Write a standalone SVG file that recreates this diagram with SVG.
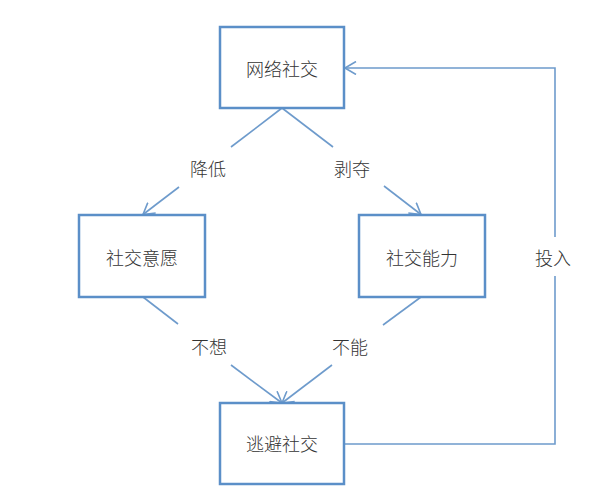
<svg xmlns="http://www.w3.org/2000/svg" width="600" height="500" viewBox="0 0 600 500">
<style>
.box{fill:#fff;stroke:#5b8fc8;stroke-width:2.5}
.lbl{font-family:"Noto Sans CJK SC","Liberation Sans",sans-serif;font-size:18px;font-weight:300;fill:#333;text-anchor:middle;dominant-baseline:central}
.c{fill:none;stroke:#6e9bcc;stroke-width:1.6}
</style>
<defs>
<marker id="ah" viewBox="0 0 12 14" refX="11.5" refY="7" markerWidth="12" markerHeight="14" markerUnits="userSpaceOnUse" orient="auto">
<path d="M0.5,0.5 L11.5,7 L0.5,13.5" fill="none" stroke="#6e9bcc" stroke-width="1.6"/>
</marker>
</defs>
<rect width="600" height="500" fill="#fff"/>
<g id="connectors">
<line class="c" x1="282" y1="108" x2="231" y2="147"/>
<line class="c" x1="179" y1="187" x2="143" y2="214.5" marker-end="url(#ah)"/>
<line class="c" x1="282" y1="108" x2="333" y2="147"/>
<line class="c" x1="384" y1="186" x2="421" y2="214.5" marker-end="url(#ah)"/>
<line class="c" x1="143" y1="297" x2="178" y2="324"/>
<line class="c" x1="231" y1="365" x2="282" y2="403" marker-end="url(#ah)"/>
<line class="c" x1="421" y1="297" x2="383" y2="325"/>
<line class="c" x1="332" y1="365" x2="282" y2="403" marker-end="url(#ah)"/>
<polyline class="c" points="344,444 555,444 555,276"/>
<polyline class="c" points="555,237 555,68 345,68" marker-end="url(#ah)"/>
<text class="lbl" x="208" y="168">降低</text>
<text class="lbl" x="352" y="168">剥夺</text>
<text class="lbl" x="209" y="346">不想</text>
<text class="lbl" x="350" y="346">不能</text>
<text class="lbl" x="553" y="257">投入</text>
</g>
<g id="n1"><rect class="box" x="220" y="27" width="124" height="81"/><text class="lbl" x="282" y="68">网络社交</text></g>
<g id="n2"><rect class="box" x="79" y="215" width="126" height="82"/><text class="lbl" x="142" y="257">社交意愿</text></g>
<g id="n3"><rect class="box" x="359" y="215" width="126" height="82"/><text class="lbl" x="422" y="257">社交能力</text></g>
<g id="n4"><rect class="box" x="220" y="403" width="124" height="81"/><text class="lbl" x="282" y="443">逃避社交</text></g>
</svg>
